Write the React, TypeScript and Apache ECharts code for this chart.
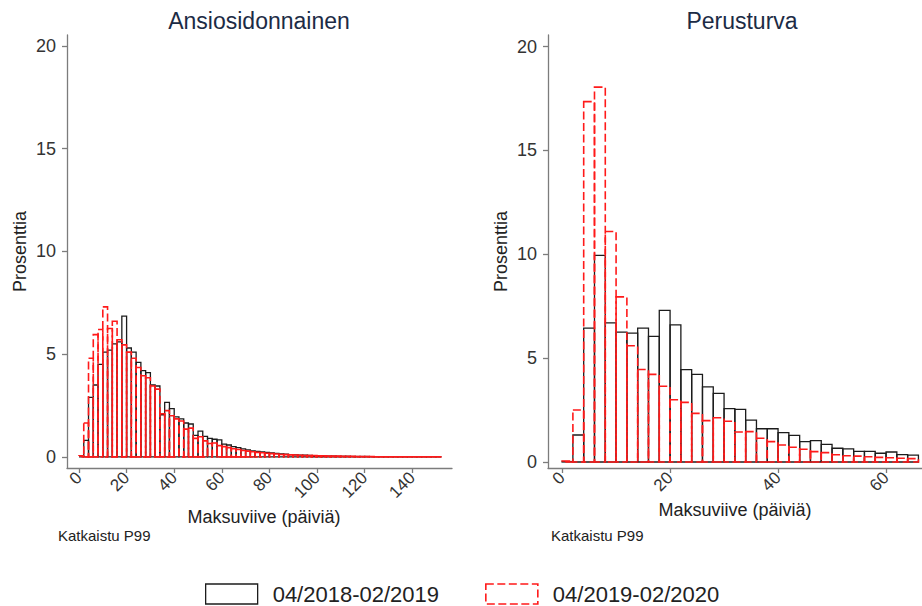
import React, { useEffect, useRef } from "react";
import * as echarts from "echarts";

// Histogram bins are 2 days wide; each array holds the left edge of a bin.
const BIN_WIDTH = 2;

const leftBinStarts = [
  0, 2, 4, 6, 8, 10, 12, 14, 16, 18, 20, 22, 24, 26, 28, 30, 32, 34, 36, 38,
  40, 42, 44, 46, 48, 50, 52, 54, 56, 58, 60, 62, 64, 66, 68, 70, 72, 74, 76, 78,
  80, 82, 84, 86, 88, 90, 92, 94, 96, 98, 100, 102, 104, 106, 108, 110, 112, 114, 116, 118,
  120, 122, 124, 126, 128, 130, 132, 134, 136, 138, 140, 142, 144, 146, 148, 150,
];

// Ansiosidonnainen, 04/2018-02/2019 (percent of cases per bin)
const leftPeriod1 = [
  0, 0.8, 2.9, 3.5, 4.5, 5.1, 5.2, 5.5, 5.6, 6.85, 5.3, 5.1, 4.6, 4.2, 4.1, 3.5, 3.45, 2.05, 2.65, 2.35,
  1.95, 1.85, 1.65, 1.6, 1.05, 1.25, 1.0, 0.9, 0.86, 0.83, 0.62, 0.58, 0.5, 0.45, 0.39, 0.34, 0.29, 0.27, 0.24, 0.22,
  0.19, 0.17, 0.15, 0.13, 0.11, 0.1, 0.09, 0.08, 0.07, 0.06, 0.05, 0.05, 0.04, 0.04, 0.03, 0.03, 0.03, 0.02, 0.02, 0.02,
  0.02, 0.01, 0.01, 0.01, 0.01, 0.01, 0.01, 0.01, 0.01, 0.01, 0.01, 0.01, 0.01, 0.01, 0.01, 0.01,
];

// Ansiosidonnainen, 04/2019-02/2020
const leftPeriod2 = [
  0.05, 1.65, 4.8, 5.95, 6.2, 7.3, 6.25, 6.6, 5.7, 5.45, 5.1, 4.8, 4.35, 3.95, 3.85, 3.45, 3.3, 2.1, 2.25, 2.0,
  1.85, 1.75, 1.35, 1.4, 0.9, 0.98, 0.78, 0.65, 0.68, 0.55, 0.5, 0.45, 0.4, 0.36, 0.31, 0.28, 0.25, 0.22, 0.2, 0.18,
  0.16, 0.14, 0.12, 0.11, 0.1, 0.09, 0.08, 0.07, 0.06, 0.06, 0.05, 0.05, 0.04, 0.04, 0.04, 0.03, 0.03, 0.03, 0.02, 0.02,
  0.02, 0.02, 0.01, 0.01, 0.01, 0.01, 0.01, 0.01, 0.01, 0.01, 0.01, 0.01, 0.01, 0.01, 0.01, 0.01,
];

const rightBinStarts = [
  0, 2, 4, 6, 8, 10, 12, 14, 16, 18, 20, 22, 24, 26, 28, 30, 32, 34, 36, 38,
  40, 42, 44, 46, 48, 50, 52, 54, 56, 58, 60, 62, 64,
];

// Perusturva, 04/2018-02/2019
const rightPeriod1 = [
  0.02, 1.3, 6.45, 9.95, 6.7, 6.25, 6.2, 6.45, 6.05, 7.3, 6.6, 4.45, 4.22, 3.62, 3.3, 2.57, 2.53, 2.02, 1.6, 1.6,
  1.41, 1.28, 0.98, 1.03, 0.85, 0.66, 0.63, 0.51, 0.51, 0.42, 0.48, 0.35, 0.33,
];

// Perusturva, 04/2019-02/2020
const rightPeriod2 = [
  0.05, 2.5, 17.35, 18.05, 11.1, 7.95, 5.6, 4.45, 4.22, 3.65, 3.0, 2.87, 2.34, 1.99, 2.13, 1.96, 1.44, 1.46, 1.14, 0.98,
  0.82, 0.71, 0.61, 0.5, 0.45, 0.35, 0.3, 0.28, 0.25, 0.22, 0.2, 0.18, 0.16,
];

const yTicks = [0, 5, 10, 15, 20];
const leftXTicks = [0, 20, 40, 60, 80, 100, 120, 140];
const rightXTicks = [0, 20, 40, 60];

const PERIOD_1 = "04/2018-02/2019";
const PERIOD_2 = "04/2019-02/2020";
const FONT = "'Liberation Sans', Arial, Helvetica, sans-serif";
const AXIS_GRAY = "#7c7c7c";
const BLACK = "#1c1c1c";
const RED = "#ff1a1a";
const RED_DASH = [8, 3.5];

const zip = (xs: number[], ys: number[]) => xs.map((x, i) => [x, ys[i]]);

// Outlined histogram bars, drawn as unfilled rectangles from each bin's edges.
function outlineBars(stroke: string, lineWidth: number, lineDash?: number[]) {
  return (_params: any, api: any) => {
    const x0 = api.value(0);
    const h = api.value(1);
    const topLeft = api.coord([x0, h]);
    const bottomRight = api.coord([x0 + BIN_WIDTH, 0]);
    return {
      type: "rect",
      shape: {
        x: topLeft[0],
        y: topLeft[1],
        width: bottomRight[0] - topLeft[0],
        height: bottomRight[1] - topLeft[1],
      },
      style: { fill: "none", stroke, lineWidth, lineDash: lineDash || null },
    };
  };
}

function xAxisFor(gridIndex: number, min: number, max: number, ticks: number[]) {
  return {
    type: "value",
    gridIndex,
    min,
    max,
    name: "Maksuviive (päiviä)",
    nameLocation: "middle",
    nameGap: 25,
    nameTextStyle: { fontSize: 18, color: "#222", fontFamily: FONT, padding: gridIndex === 0 ? [0, 0, 0, 9] : 0 },
    axisLine: { show: true, onZero: false, lineStyle: { color: AXIS_GRAY, width: 1.3 } },
    axisTick: { show: true, length: 5, customValues: ticks, lineStyle: { color: AXIS_GRAY, width: 1.3 } },
    axisLabel: { customValues: ticks, rotate: 45, fontSize: 17, color: "#333", margin: 7, fontFamily: FONT },
    splitLine: { show: false },
  };
}

function yAxisFor(gridIndex: number, min: number, max: number) {
  return {
    type: "value",
    gridIndex,
    min,
    max,
    name: "Prosenttia",
    nameLocation: "middle",
    nameGap: 38,
    nameTextStyle: { fontSize: 18, color: "#222", fontFamily: FONT },
    axisLine: { show: true, onZero: false, lineStyle: { color: AXIS_GRAY, width: 1.3 } },
    axisTick: { show: true, length: 5, customValues: yTicks, lineStyle: { color: AXIS_GRAY, width: 1.3 } },
    axisLabel: { customValues: yTicks, fontSize: 18, color: "#333", margin: 11, fontFamily: FONT },
    splitLine: { show: false },
  };
}

export default function App() {
  const ref = useRef<HTMLDivElement>(null);

  useEffect(() => {
    if (!ref.current) return;
    const chart = echarts.init(ref.current, undefined, { renderer: "svg" });

    const option: any = {
      animation: false,
      backgroundColor: "#ffffff",
      textStyle: { fontFamily: FONT },
      title: [
        {
          text: "Ansiosidonnainen",
          left: 259,
          top: 9,
          textAlign: "center",
          padding: 0,
          textStyle: { fontSize: 23, fontWeight: "normal", color: "#1c2b45", fontFamily: FONT },
        },
        {
          text: "Perusturva",
          left: 742,
          top: 9,
          textAlign: "center",
          padding: 0,
          textStyle: { fontSize: 23, fontWeight: "normal", color: "#1c2b45", fontFamily: FONT },
        },
      ],
      grid: [
        { left: 67, top: 35, width: 385, height: 433, containLabel: false },
        { left: 548, top: 35, width: 390, height: 433, containLabel: false },
      ],
      xAxis: [xAxisFor(0, -5.04, 156.72, leftXTicks), xAxisFor(1, -2.61, 66.66, rightXTicks)],
      yAxis: [yAxisFor(0, -0.54, 20.53), yAxisFor(1, -0.29, 20.56)],
      legend: {
        left: 205,
        top: 583,
        itemWidth: 52,
        itemHeight: 20,
        itemGap: 46,
        padding: 0,
        selectedMode: false,
        textStyle: { fontSize: 22, color: "#222", fontFamily: FONT, padding: [0, 0, 0, 10] },
        data: [
          {
            name: PERIOD_1,
            icon: "rect",
            itemStyle: { color: "#ffffff", borderColor: BLACK, borderWidth: 1.3 },
          },
          {
            name: PERIOD_2,
            icon: "rect",
            itemStyle: { color: "#ffffff", borderColor: RED, borderWidth: 1.6, borderType: RED_DASH },
          },
        ],
      },
      graphic: [
        {
          type: "text",
          left: 58,
          top: 528,
          style: { text: "Katkaistu P99", fontSize: 15, fill: "#222", fontFamily: FONT },
        },
        {
          type: "text",
          left: 551,
          top: 528,
          style: { text: "Katkaistu P99", fontSize: 15, fill: "#222", fontFamily: FONT },
        },
      ],
      series: [
        {
          name: PERIOD_1,
          type: "custom",
          xAxisIndex: 0,
          yAxisIndex: 0,
          encode: { x: 0, y: 1 },
          itemStyle: { color: "#ffffff", borderColor: BLACK },
          renderItem: outlineBars(BLACK, 1.3),
          data: zip(leftBinStarts, leftPeriod1),
        },
        {
          name: PERIOD_1,
          type: "custom",
          xAxisIndex: 1,
          yAxisIndex: 1,
          encode: { x: 0, y: 1 },
          itemStyle: { color: "#ffffff", borderColor: BLACK },
          renderItem: outlineBars(BLACK, 1.3),
          data: zip(rightBinStarts, rightPeriod1),
        },
        {
          name: PERIOD_2,
          type: "custom",
          xAxisIndex: 0,
          yAxisIndex: 0,
          encode: { x: 0, y: 1 },
          itemStyle: { color: "#ffffff", borderColor: RED },
          renderItem: outlineBars(RED, 1.6, RED_DASH),
          data: zip(leftBinStarts, leftPeriod2),
        },
        {
          name: PERIOD_2,
          type: "custom",
          xAxisIndex: 1,
          yAxisIndex: 1,
          encode: { x: 0, y: 1 },
          itemStyle: { color: "#ffffff", borderColor: RED },
          renderItem: outlineBars(RED, 1.6, RED_DASH),
          data: zip(rightBinStarts, rightPeriod2),
        },
      ],
    };

    chart.setOption(option);
    return () => chart.dispose();
  }, []);

  return (
    <div
      ref={ref}
      style={{ position: "fixed", left: 0, top: 0, width: 922, height: 606, background: "#fff" }}
    />
  );
}
